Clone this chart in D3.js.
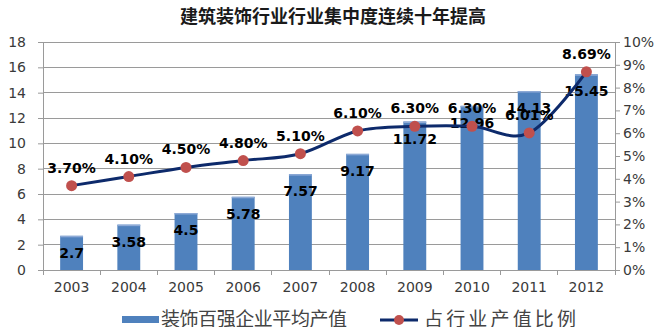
<!DOCTYPE html>
<html><head><meta charset="utf-8">
<script src="https://cdn.jsdelivr.net/npm/d3@7"></script>
<style>html,body{margin:0;padding:0;background:#fff;}svg{display:block;}</style>
</head><body>
<svg id="c" width="656" height="327"></svg>
<script>
const years = ["2003","2004","2005","2006","2007","2008","2009","2010","2011","2012"];
const avgOutput = [2.7,3.58,4.5,5.78,7.57,9.17,11.72,12.96,14.13,15.45];
const shareRatio = [3.70,4.10,4.50,4.80,5.10,6.10,6.30,6.30,6.01,8.69];
const leftTicks = [0,2,4,6,8,10,12,14,16,18];
const rightTicks = [0,1,2,3,4,5,6,7,8,9,10];
const titleText = "建筑装饰行业行业集中度连续十年提高";
const legendBar = "装饰百强企业平均产值";
const legendLine = "占行业产值比例";

const svg = d3.select("#c");
const L = 43, R = 615, T = 42, B = 270;
const x = d3.scaleBand().domain(years).range([L, R]).paddingInner(0.6).paddingOuter(0.3);
const xc = d => x(d) + x.bandwidth()/2;
const xb = d3.scaleBand().domain(years).range([L, R]);
const y = d3.scaleLinear().domain([0,18]).range([B, T]);
const y2 = d3.scaleLinear().domain([0,10]).range([B, T]);
const font = "'DejaVu Sans', Verdana, sans-serif";

// title
svg.append("text").attr("x", 333).attr("y", 23).attr("text-anchor","middle")
  .attr("font-family","'Noto Sans CJK SC', sans-serif").attr("font-weight","bold")
  .attr("font-size",18).attr("fill","#1a1a1a").text(titleText);

// gridlines
svg.append("g").selectAll("line").data(leftTicks.filter(d=>d>0)).join("line")
  .attr("x1", L).attr("x2", R).attr("y1", d=>y(d)).attr("y2", d=>y(d))
  .attr("stroke","#9a9a9a").attr("stroke-width",1).attr("shape-rendering","crispEdges");

// left axis
const gl = svg.append("g").attr("transform",`translate(${L},0)`)
  .call(d3.axisLeft(y).tickValues(leftTicks).tickSize(5).tickPadding(12).tickFormat(d3.format("d")));
gl.select(".domain").attr("stroke","#9a9a9a");
gl.selectAll(".tick line").attr("stroke","#9a9a9a");
gl.selectAll("text").attr("font-family",font).attr("font-size",14).attr("fill","#3a3a3a");

// right axis
const gr = svg.append("g").attr("transform",`translate(${R},0)`)
  .call(d3.axisRight(y2).tickValues(rightTicks).tickSize(5).tickPadding(3).tickFormat(d=>d+"%"));
gr.select(".domain").attr("stroke","#9a9a9a");
gr.selectAll(".tick line").attr("stroke","#9a9a9a");
gr.selectAll("text").attr("font-family",font).attr("font-size",14).attr("fill","#3a3a3a");

// bottom axis
const gb = svg.append("g").attr("transform",`translate(0,${B})`)
  .call(d3.axisBottom(xb).tickSize(0).tickPadding(12));
gb.select(".domain").attr("stroke","#9a9a9a");
gb.selectAll("text").attr("font-family",font).attr("font-size",14).attr("fill","#3a3a3a");
svg.append("g").selectAll("line").data(years.concat(["end"])).join("line")
  .attr("x1", (d,i)=> i<years.length ? xb(d) : R).attr("x2",(d,i)=> i<years.length ? xb(d) : R)
  .attr("y1", B).attr("y2", B+5).attr("stroke","#9a9a9a").attr("shape-rendering","crispEdges");

// bars
svg.append("g").selectAll("rect").data(years).join("rect")
  .attr("x", d=>x(d)).attr("width", x.bandwidth())
  .attr("y", (d,i)=>y(avgOutput[i])).attr("height",(d,i)=>B-y(avgOutput[i]))
  .attr("fill","#4f81bd");
svg.append("g").selectAll("rect").data(years).join("rect")
  .attr("x", d=>x(d)).attr("width", x.bandwidth())
  .attr("y", (d,i)=>y(avgOutput[i])).attr("height",1.5)
  .attr("fill","#8eaad6");

// bar labels
svg.append("g").selectAll("text").data(years).join("text")
  .attr("x", d=>xc(d)).attr("y",(d,i)=>y(avgOutput[i])+22).attr("text-anchor","middle")
  .attr("font-family",font).attr("font-weight","bold").attr("font-size",14).attr("fill","#000")
  .text((d,i)=>avgOutput[i]);

// line
const line = d3.line().x((d,i)=>xc(years[i])).y(d=>y2(d)).curve(d3.curveCatmullRom.alpha(0));
svg.append("path").datum(shareRatio).attr("d",line).attr("fill","none")
  .attr("stroke","#0d2a6b").attr("stroke-width",3);
svg.append("g").selectAll("circle").data(shareRatio).join("circle")
  .attr("cx",(d,i)=>xc(years[i])).attr("cy",d=>y2(d)).attr("r",5.5).attr("fill","#c0504d");

// line labels
svg.append("g").selectAll("text").data(shareRatio).join("text")
  .attr("x",(d,i)=>xc(years[i])).attr("y",d=>y2(d)-13).attr("text-anchor","middle")
  .attr("font-family",font).attr("font-weight","bold").attr("font-size",14).attr("fill","#000")
  .text(d=>d.toFixed(2)+"%");

// legend
const lg = svg.append("g");
lg.append("rect").attr("x",122).attr("y",316).attr("width",37).attr("height",7).attr("fill","#4f81bd");
lg.append("text").attr("x",161).attr("y",326).attr("font-family","'Noto Sans CJK SC', sans-serif")
  .attr("font-size",19).attr("fill","#444").attr("textLength",186).attr("lengthAdjust","spacing").text(legendBar);
lg.append("line").attr("x1",380).attr("x2",418).attr("y1",320).attr("y2",320).attr("stroke","#0d2a6b").attr("stroke-width",3);
lg.append("circle").attr("cx",399).attr("cy",320).attr("r",5).attr("fill","#c0504d");
lg.append("text").attr("x",424).attr("y",326).attr("font-family","'Noto Sans CJK SC', sans-serif")
  .attr("font-size",19).attr("fill","#444").attr("textLength",152).attr("lengthAdjust","spacing").text(legendLine);

// top border line
svg.append("line").attr("x1",L).attr("x2",R).attr("y1",T).attr("y2",T).attr("stroke","#9a9a9a").attr("shape-rendering","crispEdges");
</script>
</body></html>
